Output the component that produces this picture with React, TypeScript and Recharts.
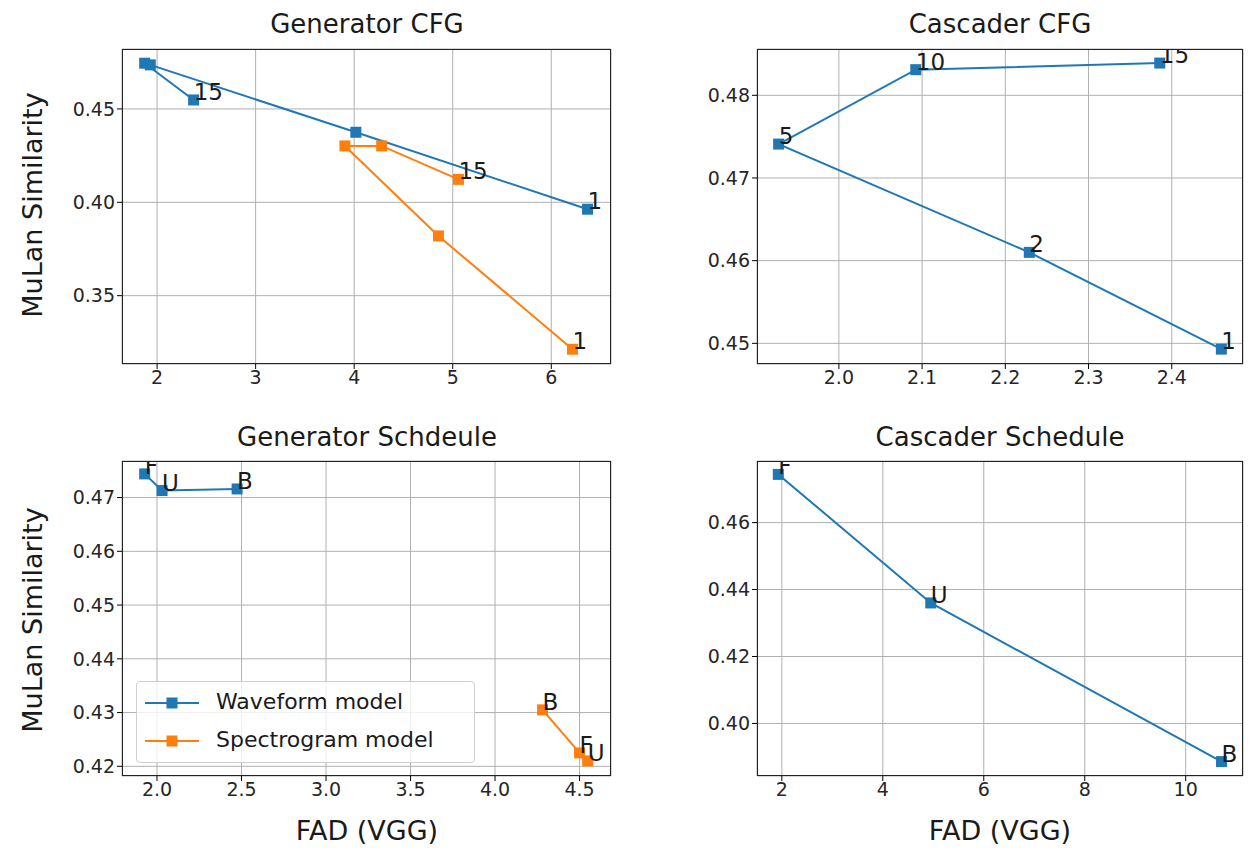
import { LineChart, Line, XAxis, YAxis, CartesianGrid } from 'recharts';

const BLUE = '#1f77b4';
const ORANGE = '#ff7f0e';
const FONT = '"DejaVu Sans", sans-serif';

// Generator CFG
const genCfgWave = [
  { x: 2.371, y: 0.4548, label: '15' },
  { x: 1.874, y: 0.4745, label: '' },
  { x: 1.931, y: 0.4736, label: '' },
  { x: 4.017, y: 0.4375, label: '' },
  { x: 6.368, y: 0.3963, label: '1' },
];
const genCfgSpec = [
  { x: 6.215, y: 0.3213, label: '1' },
  { x: 4.855, y: 0.382, label: '' },
  { x: 3.906, y: 0.4302, label: '' },
  { x: 4.279, y: 0.4302, label: '' },
  { x: 5.058, y: 0.4123, label: '15' },
];

// Cascader CFG
const casCfgWave = [
  { x: 2.4596, y: 0.4493, label: '1' },
  { x: 2.2288, y: 0.461, label: '2' },
  { x: 1.9276, y: 0.4741, label: '5' },
  { x: 2.0924, y: 0.4831, label: '10' },
  { x: 2.3856, y: 0.4839, label: '15' },
];

// Generator schedule
const genSchWave = [
  { x: 1.927, y: 0.4744, label: 'F' },
  { x: 2.03, y: 0.4713, label: 'U' },
  { x: 2.474, y: 0.4716, label: 'B' },
];
const genSchSpec = [
  { x: 4.281, y: 0.4305, label: 'B' },
  { x: 4.5, y: 0.4225, label: 'F' },
  { x: 4.548, y: 0.421, label: 'U' },
];

// Cascader schedule
const casSchWave = [
  { x: 1.93, y: 0.4744, label: 'F' },
  { x: 4.95, y: 0.436, label: 'U' },
  { x: 10.71, y: 0.3886, label: 'B' },
];

const genCfgXTicks = [2, 3, 4, 5, 6];
const genCfgYTicks = [0.35, 0.4, 0.45];
const casCfgXTicks = [2.0, 2.1, 2.2, 2.3, 2.4];
const casCfgYTicks = [0.45, 0.46, 0.47, 0.48];
const genSchXTicks = [2.0, 2.5, 3.0, 3.5, 4.0, 4.5];
const genSchYTicks = [0.42, 0.43, 0.44, 0.45, 0.46, 0.47];
const casSchXTicks = [2, 4, 6, 8, 10];
const casSchYTicks = [0.4, 0.42, 0.44, 0.46];

const SquareDot = (color: string) => (props: any) => {
  const { cx, cy, payload, index } = props;
  if (cx == null || cy == null) return <g key={index} />;
  return (
    <g key={index}>
      <rect x={cx - 5.5} y={cy - 5.5} width={11} height={11} fill={color} />
      {payload.label ? (
        <text x={cx} y={cy} fontSize={23} fontFamily={FONT} fill="#1a1a1a">
          {payload.label}
        </text>
      ) : null}
    </g>
  );
};

const tickStyle = { fontSize: 19, fontFamily: FONT, fill: '#262626' };

function Panel({ left, top, width, height, margin, yWidth, xHeight, xDomain, yDomain, xTicks, yTicks, xFmt, yFmt, series }: any) {
  const plotL = left + yWidth;
  const plotT = top + margin.top;
  const plotW = width - yWidth - margin.right;
  const plotH = height - margin.top - xHeight;
  return (
    <>
      <div style={{ position: 'absolute', left, top }}>
        <LineChart width={width} height={height} margin={{ top: margin.top, right: margin.right, left: 0, bottom: 0 }}>
          <CartesianGrid stroke="#b0b0b0" strokeWidth={1} />
          <XAxis
            type="number"
            dataKey="x"
            domain={xDomain}
            allowDataOverflow
            ticks={xTicks}
            interval={0}
            tickFormatter={xFmt}
            height={xHeight}
            axisLine={false}
            tickSize={5}
            tickLine={{ stroke: '#000' }}
            tick={tickStyle}
          />
          <YAxis
            type="number"
            dataKey="y"
            domain={yDomain}
            allowDataOverflow
            ticks={yTicks}
            interval={0}
            tickFormatter={yFmt}
            width={yWidth}
            axisLine={false}
            tickSize={5}
            tickLine={{ stroke: '#000' }}
            tick={tickStyle}
          />
          {series.map((s: any, i: number) => (
            <Line
              key={i}
              data={s.data}
              dataKey="y"
              type="linear"
              stroke={s.color}
              strokeWidth={2}
              dot={SquareDot(s.color)}
              activeDot={false}
              isAnimationActive={false}
            />
          ))}
        </LineChart>
      </div>
      <div
        style={{
          position: 'absolute',
          left: plotL,
          top: plotT,
          width: plotW,
          height: plotH,
          border: '1px solid #222',
          boxSizing: 'border-box',
          pointerEvents: 'none',
        }}
      />
    </>
  );
}

const text = (s: string, x: number, y: number, size: number, rotate = false) => (
  <div
    style={{
      position: 'absolute',
      left: x,
      top: y,
      transform: `translate(-50%, -50%)${rotate ? ' rotate(-90deg)' : ''}`,
      fontFamily: FONT,
      fontSize: size,
      color: '#1a1a1a',
      whiteSpace: 'nowrap',
    }}
  >
    {s}
  </div>
);

export default function App() {
  const f2 = (v: number) => v.toFixed(2);
  const f1 = (v: number) => v.toFixed(1);
  const f0 = (v: number) => v.toFixed(0);
  return (
    <div style={{ position: 'absolute', left: 0, top: 0, width: 1253, height: 865, background: '#fff' }}>
      <Panel
        left={0} top={0} width={640} height={440} margin={{ top: 49, right: 29 }} yWidth={122} xHeight={76}
        xDomain={[1.644, 6.606]} yDomain={[0.3134, 0.4821]} xTicks={genCfgXTicks} yTicks={genCfgYTicks}
        xFmt={f0} yFmt={f2}
        series={[{ data: genCfgWave, color: BLUE }, { data: genCfgSpec, color: ORANGE }]}
      />
      <Panel
        left={640} top={0} width={613} height={440} margin={{ top: 49, right: 10 }} yWidth={117} xHeight={76}
        xDomain={[1.9016, 2.4856]} yDomain={[0.4475, 0.4856]} xTicks={casCfgXTicks} yTicks={casCfgYTicks}
        xFmt={f1} yFmt={f2}
        series={[{ data: casCfgWave, color: BLUE }]}
      />
      <Panel
        left={0} top={440} width={640} height={425} margin={{ top: 21, right: 29 }} yWidth={122} xHeight={89}
        xDomain={[1.793, 4.686]} yDomain={[0.4182, 0.4768]} xTicks={genSchXTicks} yTicks={genSchYTicks}
        xFmt={f1} yFmt={f2}
        series={[{ data: genSchWave, color: BLUE }, { data: genSchSpec, color: ORANGE }]}
      />
      <Panel
        left={640} top={440} width={613} height={425} margin={{ top: 21, right: 10 }} yWidth={117} xHeight={89}
        xDomain={[1.508, 11.135]} yDomain={[0.3843, 0.4784]} xTicks={casSchXTicks} yTicks={casSchYTicks}
        xFmt={f0} yFmt={f2}
        series={[{ data: casSchWave, color: BLUE }]}
      />
      {text('Generator CFG', 367, 24, 26)}
      {text('Cascader CFG', 1000, 24, 26)}
      {text('Generator Schdeule', 367, 437, 26)}
      {text('Cascader Schedule', 1000, 437, 26)}
      {text('MuLan Similarity', 32, 205, 27, true)}
      {text('MuLan Similarity', 32, 620, 27, true)}
      {text('FAD (VGG)', 367, 830, 27)}
      {text('FAD (VGG)', 1000, 830, 27)}
      <div
        style={{
          position: 'absolute', left: 136, top: 681, width: 339, height: 82,
          border: '1px solid #d0d0d0', borderRadius: 4, background: 'rgba(255,255,255,0.8)',
          boxSizing: 'border-box', fontFamily: FONT, fontSize: 22, color: '#1a1a1a',
        }}
      >
        {[{ c: BLUE, t: 'Waveform model', y: 21 }, { c: ORANGE, t: 'Spectrogram model', y: 59 }].map((e) => (
          <div key={e.t} style={{ position: 'absolute', left: 0, top: e.y - 14, height: 28, width: '100%' }}>
            <svg width={70} height={28} style={{ position: 'absolute', left: 6, top: 0 }}>
              <line x1={2} y1={14} x2={56} y2={14} stroke={e.c} strokeWidth={2} />
              <rect x={23.5} y={8.5} width={11} height={11} fill={e.c} />
            </svg>
            <span style={{ position: 'absolute', left: 79, top: 0, whiteSpace: 'nowrap' }}>{e.t}</span>
          </div>
        ))}
      </div>
    </div>
  );
}
